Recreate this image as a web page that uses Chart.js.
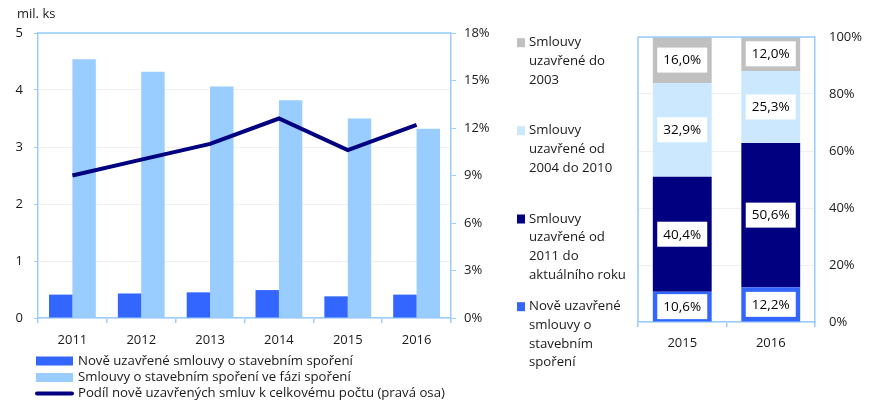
<!DOCTYPE html>
<html>
<head>
<meta charset="utf-8">
<script src="https://cdn.jsdelivr.net/npm/chart.js@4.4.1/dist/chart.umd.min.js"></script>
<style>
  html, body { margin: 0; padding: 0; background: #fff; }
  #wrap { position: relative; width: 878px; height: 409px; overflow: hidden; }
  #c1 { position: absolute; left: 0; top: 0; }
  #c2 { position: absolute; left: 490px; top: 0; }
</style>
</head>
<body>
<div id="wrap">
  <canvas id="c1" width="490" height="409"></canvas>
  <canvas id="c2" width="388" height="409"></canvas>
</div>
<script>
// ---- Data: left chart ----
const years = ['2011', '2012', '2013', '2014', '2015', '2016'];
const newContracts = [0.41, 0.43, 0.45, 0.49, 0.38, 0.41];
const savingContracts = [4.54, 4.32, 4.06, 3.82, 3.50, 3.32];
const shareNew = [9.0, 10.0, 11.0, 12.6, 10.6, 12.2];
const leftUnit = 'mil. ks';
const leftLegend = [
  'Nově uzavřené smlouvy o stavebním spoření',
  'Smlouvy o stavebním spoření ve fázi spoření',
  'Podíl nově uzavřených smluv k celkovému počtu (pravá osa)'
];

// ---- Data: right chart ----
const structYears = ['2015', '2016'];
const shareNewStruct = [10.6, 12.2];
const share2011toNow = [40.4, 50.6];
const share2004to2010 = [32.9, 25.3];
const shareTo2003 = [16.0, 12.0];
const rightLegend = [
  ['Smlouvy', 'uzavřené do', '2003'],
  ['Smlouvy', 'uzavřené od', '2004 do 2010'],
  ['Smlouvy', 'uzavřené od', '2011 do', 'aktuálního roku'],
  ['Nově uzavřené', 'smlouvy o', 'stavebním', 'spoření']
];

const FONT = "'Open Sans', 'Noto Sans', sans-serif";
const TXT = '#1a1a1a';
const AXIS = '#99ccff';
const C_NEW = '#3366ff';
const C_SAVE = '#99ccff';
const C_NAVY = '#000080';
const C_LIGHT = '#cce8ff';
const C_GRAY = '#c0c0c0';

Chart.defaults.font.family = FONT;
Chart.defaults.font.size = 13;
Chart.defaults.color = TXT;
Chart.defaults.animation = false;

// ---- Left chart ----
const leftDecor = {
  id: 'leftDecor',
  afterDraw(chart) {
    const ctx = chart.ctx, a = chart.chartArea;
    ctx.save();
    ctx.strokeStyle = AXIS;
    ctx.lineWidth = 1.5;
    ctx.beginPath();
    ctx.moveTo(a.left, a.top); ctx.lineTo(a.right, a.top);
    ctx.stroke();
    // unit title
    ctx.fillStyle = TXT;
    ctx.font = '13px ' + FONT;
    ctx.textBaseline = 'middle';
    ctx.textAlign = 'left';
    ctx.fillText(leftUnit, 17, 14);
    // legend
    const rows = [361, 377.5, 393.5];
    const colors = [C_NEW, C_SAVE, C_NAVY];
    ctx.font = '13.2px ' + FONT;
    leftLegend.forEach((t, i) => {
      const y = rows[i];
      if (i < 2) {
        ctx.fillStyle = colors[i];
        ctx.fillRect(36, y - 4.5, 37, 9);
      } else {
        ctx.strokeStyle = colors[i];
        ctx.lineWidth = 4;
        ctx.lineCap = 'round';
        ctx.beginPath(); ctx.moveTo(37, y); ctx.lineTo(72, y); ctx.stroke();
      }
      ctx.fillStyle = TXT;
      ctx.fillText(t, 78, y);
    });
    ctx.restore();
  }
};

new Chart(document.getElementById('c1'), {
  type: 'bar',
  data: {
    labels: years,
    datasets: [
      { type: 'line', label: leftLegend[2], data: shareNew, yAxisID: 'y1',
        borderColor: C_NAVY, backgroundColor: C_NAVY, borderWidth: 4,
        pointRadius: 0, tension: 0, order: 0 },
      { label: leftLegend[0], data: newContracts, backgroundColor: C_NEW,
        yAxisID: 'y', order: 1, categoryPercentage: 0.68, barPercentage: 1.0 },
      { label: leftLegend[1], data: savingContracts, backgroundColor: C_SAVE,
        yAxisID: 'y', order: 1, categoryPercentage: 0.68, barPercentage: 1.0 }
    ]
  },
  options: {
    responsive: false,
    layout: { padding: { top: 33, left: 0, right: 0, bottom: 61 } },
    plugins: { legend: { display: false }, tooltip: { enabled: false } },
    scales: {
      x: {
        grid: { offset: true, drawOnChartArea: false, tickLength: 5, color: AXIS, lineWidth: 1.5 },
        border: { color: AXIS, width: 1.5 },
        ticks: { padding: 9, color: TXT, font: { size: 13 } },
        afterFit(s) { s.height = 30; }
      },
      y: {
        position: 'left', min: 0, max: 5,
        ticks: { stepSize: 1, padding: 11, color: TXT, font: { size: 13 } },
        grid: { color: '#f0f0f0', tickColor: AXIS, tickLength: 4, lineWidth: 1 },
        border: { color: AXIS, width: 1.5 },
        afterFit(s) { s.width = 38; }
      },
      y1: {
        position: 'right', min: 0, max: 18,
        ticks: { stepSize: 3, padding: 8, color: TXT, font: { size: 13 },
          callback: v => v + '%' },
        grid: { drawOnChartArea: false, color: AXIS, tickLength: 5, lineWidth: 1 },
        border: { color: AXIS, width: 1.5 },
        afterFit(s) { s.width = 39; }
      }
    }
  },
  plugins: [leftDecor]
});

// ---- Right chart ----
const fmt = v => v.toFixed(1).replace('.', ',') + '%';
const rightDecor = {
  id: 'rightDecor',
  afterDatasetsDraw(chart) {
    const ctx = chart.ctx;
    ctx.save();
    ctx.font = '13.5px ' + FONT;
    ctx.textAlign = 'center';
    ctx.textBaseline = 'middle';
    chart.data.datasets.forEach((ds, di) => {
      const meta = chart.getDatasetMeta(di);
      meta.data.forEach((el, i) => {
        const cy = (el.y + el.base) / 2;
        const cx = el.x;
        ctx.fillStyle = '#ffffff';
        ctx.fillRect(cx - 25, cy - 12.5, 50, 25);
        ctx.fillStyle = '#000000';
        ctx.fillText(fmt(ds.data[i]), cx, cy + 0.5);
      });
    });
    ctx.restore();
  },
  afterDraw(chart) {
    const ctx = chart.ctx, a = chart.chartArea;
    ctx.save();
    ctx.strokeStyle = AXIS;
    ctx.lineWidth = 1.5;
    ctx.beginPath();
    ctx.moveTo(a.left, a.top); ctx.lineTo(a.right, a.top);
    ctx.moveTo(a.left, a.top); ctx.lineTo(a.left, a.bottom);
    ctx.stroke();
    // legend
    const groupTop = [42.7, 130.7, 219, 306.7];
    const colors = [C_GRAY, C_LIGHT, C_NAVY, C_NEW];
    ctx.font = '13.2px ' + FONT;
    ctx.textAlign = 'left';
    ctx.textBaseline = 'middle';
    rightLegend.forEach((lines, g) => {
      const y0 = groupTop[g];
      ctx.fillStyle = colors[g];
      ctx.fillRect(27, y0 - 4.5, 8, 9);
      ctx.fillStyle = TXT;
      lines.forEach((t, k) => ctx.fillText(t, 39, y0 + k * 18.6));
    });
    ctx.restore();
  }
};

const barOpts = { categoryPercentage: 0.665, barPercentage: 1.0 };
new Chart(document.getElementById('c2'), {
  type: 'bar',
  data: {
    labels: structYears,
    datasets: [
      Object.assign({ label: rightLegend[3].join(' '), data: shareNewStruct, backgroundColor: C_NEW }, barOpts),
      Object.assign({ label: rightLegend[2].join(' '), data: share2011toNow, backgroundColor: C_NAVY }, barOpts),
      Object.assign({ label: rightLegend[1].join(' '), data: share2004to2010, backgroundColor: C_LIGHT }, barOpts),
      Object.assign({ label: rightLegend[0].join(' '), data: shareTo2003, backgroundColor: C_GRAY }, barOpts)
    ]
  },
  options: {
    responsive: false,
    layout: { padding: { top: 37, left: 148, right: 0, bottom: 57 } },
    plugins: { legend: { display: false }, tooltip: { enabled: false } },
    scales: {
      x: {
        stacked: true,
        grid: { offset: true, drawOnChartArea: false, tickLength: 5, color: AXIS, lineWidth: 1.5 },
        border: { color: AXIS, width: 1.5 },
        ticks: { padding: 8, color: TXT, font: { size: 13 } },
        afterFit(s) { s.height = 30; }
      },
      y: {
        stacked: true, position: 'right', min: 0, max: 100,
        ticks: { stepSize: 20, padding: 14, color: TXT, font: { size: 13 },
          callback: v => v + '%' },
        grid: { color: '#f0f0f0', drawTicks: false, lineWidth: 1 },
        border: { color: AXIS, width: 1.5 },
        afterFit(s) { s.width = 63; }
      }
    }
  },
  plugins: [rightDecor]
});
</script>
</body>
</html>
